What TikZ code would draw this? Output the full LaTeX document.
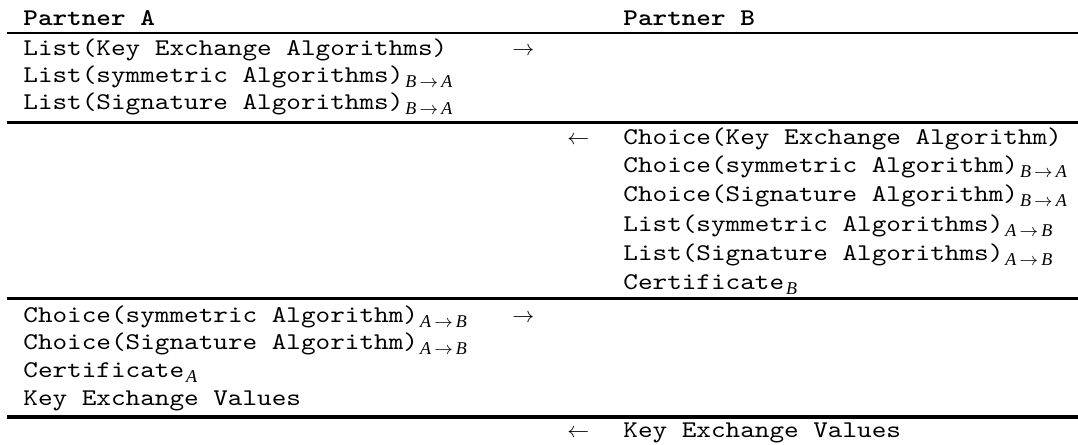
\documentclass[tikz,border=0pt]{standalone}
\usepackage{fontspec}
\setmainfont{Liberation Serif}
\setmonofont{lmmono10-regular.otf}[FakeStretch=1.16,BoldFont=lmmonolt10-bold.otf,BoldFeatures={FakeStretch=1.16}]
\newfontfamily\subserif{Liberation Serif}
\newcommand{\mysub}[1]{\kern1pt\raisebox{-2.6pt}{\fontsize{9pt}{10pt}\selectfont\subserif #1}}
\newcommand{\BtoA}{\mysub{\textit{B}\kern1.6pt$\rightarrow$\kern1.6pt\textit{A}}}
\newcommand{\AtoB}{\mysub{\textit{A}\kern1.6pt$\rightarrow$\kern1.6pt\textit{B}}}
\newcommand{\subB}{\mysub{\textit{B}}}
\newcommand{\subA}{\mysub{\textit{A}}}
\begin{document}
\begin{tikzpicture}[x=0.5pt,y=-0.5pt,
  txt/.style={anchor=base west,inner sep=0pt,font=\ttfamily\fontsize{12pt}{14pt}\selectfont},
  hdr/.style={anchor=base west,inner sep=0pt,font=\ttfamily\bfseries\fontsize{12pt}{14pt}\selectfont},
  arr/.style={anchor=base west,inner sep=0pt,font=\fontsize{10.6pt}{12pt}\selectfont},
  hrule/.style={line width=1.2pt},
  brule/.style={line width=1.6pt}]
\useasboundingbox (0,0) rectangle (1078,445);
% headers
\node[hdr] (ha) at (23,25) {Partner A};
\node[hdr] (hb) at (623,25) {Partner B};
\coordinate (l0a) at (7,33); \coordinate (l0b) at (1078,33);
\draw[hrule] (l0a) -- (l0b);
% block 1
\node[txt] (a1) at (23,55) {List(Key Exchange Algorithms)};
\node[txt] (a2) at (23,82) {List(symmetric Algorithms)\BtoA};
\node[txt] (a3) at (23,109) {List(Signature Algorithms)\BtoA};
\node[arr] (r1) at (512,55) {$\rightarrow$};
\coordinate (l1a) at (7,122.7); \coordinate (l1b) at (1078,122.7);
\draw[brule] (l1a) -- (l1b);
% block 2
\node[arr] (r2) at (567,144) {$\leftarrow$};
\node[txt] (b1) at (623,144) {Choice(Key Exchange Algorithm)};
\node[txt] (b2) at (623,172.5) {Choice(symmetric Algorithm)\BtoA};
\node[txt] (b3) at (623,201.5) {Choice(Signature Algorithm)\BtoA};
\node[txt] (b4) at (623,231) {List(symmetric Algorithms)\AtoB};
\node[txt] (b5) at (623,260) {List(Signature Algorithms)\AtoB};
\node[txt] (b6) at (623,289) {Certificate\subB};
\coordinate (l2a) at (7,298.5); \coordinate (l2b) at (1078,298.5);
\draw[brule] (l2a) -- (l2b);
% block 3
\node[txt] (c1) at (23,322) {Choice(symmetric Algorithm)\AtoB};
\node[txt] (c2) at (23,349.5) {Choice(Signature Algorithm)\AtoB};
\node[txt] (c3) at (23,377) {Certificate\subA};
\node[txt] (c4) at (23,405) {Key Exchange Values};
\node[arr] (r3) at (512,322) {$\rightarrow$};
\coordinate (l3a) at (7,417); \coordinate (l3b) at (1078,417);
\draw[brule] (l3a) -- (l3b);
% block 4
\node[arr] (r4) at (567,437) {$\leftarrow$};
\node[txt] (d1) at (623,437) {Key Exchange Values};
\end{tikzpicture}
\end{document}
